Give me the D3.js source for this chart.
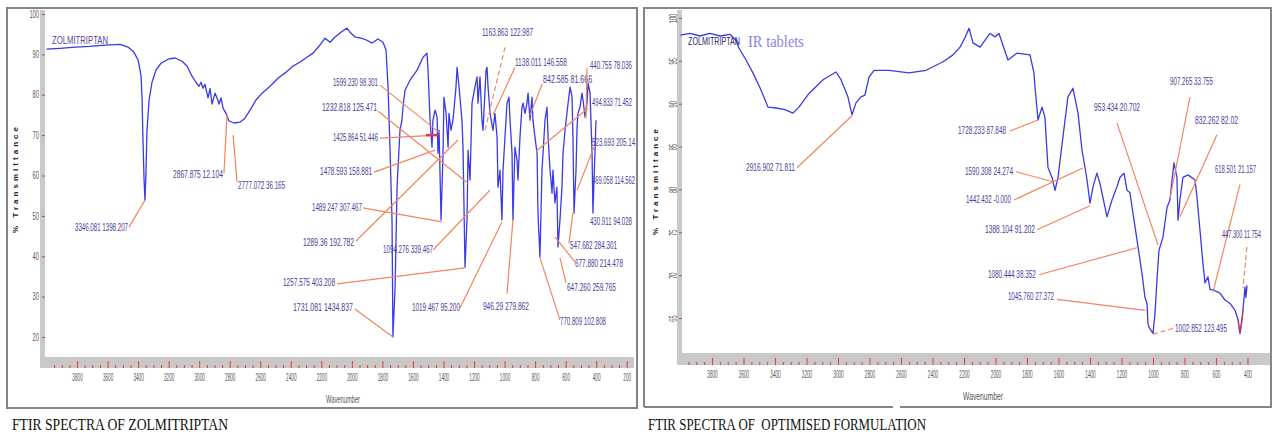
<!DOCTYPE html>
<html>
<head>
<meta charset="utf-8">
<script src="https://cdn.jsdelivr.net/npm/d3@7"></script>
<style>
	body { margin: 0; background: #fff; }
	svg { display: block; }
</style>
</head>
<body>
<svg id="chart" width="1272" height="432"></svg>
<script>
// ---- left spectrum: zolmitriptan ----
let zolWavenumber = [4000, 3911, 3813, 3715, 3617, 3518, 3466, 3427, 3400, 3381, 3374, 3368, 3361, 3355, 3348, 3342, 3328, 3309, 3283, 3250,
	3204, 3158, 3112, 3080, 3047, 3021, 3001, 2988, 2975, 2962, 2942, 2929, 2916, 2896, 2883, 2870, 2857, 2844, 2824, 2805,
	2772, 2733, 2700, 2667, 2628, 2588, 2536, 2484, 2431, 2385, 2340, 2294, 2254, 2215, 2176, 2143, 2110, 2071, 2032, 2012,
	1979, 1940, 1901, 1868, 1829, 1796, 1776, 1763, 1750, 1737, 1731, 1717, 1704, 1685, 1672, 1665, 1652, 1619, 1573, 1534,
	1508, 1501, 1488, 1475, 1469, 1455, 1442, 1436, 1429, 1416, 1403, 1397, 1383, 1370, 1364, 1351, 1338, 1318, 1311, 1298,
	1279, 1272, 1259, 1246, 1239, 1226, 1213, 1194, 1180, 1174, 1161, 1148, 1141, 1121, 1115, 1108, 1095, 1076, 1063, 1049,
	1043, 1030, 1017, 1010, 984, 971, 964, 951, 945, 932, 918, 912, 899, 886, 879, 866, 853, 846, 833, 820,
	814, 801, 787, 781, 768, 755, 748, 735, 722, 715, 702, 689, 683, 670, 657, 650, 637, 624, 617, 604,
	584, 571, 558, 552, 545, 532, 525, 519, 506, 493, 486, 473, 460, 453, 440, 427, 421, 414, 408, 401];
let zolTransmittance = [91.3, 91.5, 91.8, 92.0, 92.3, 92.5, 91.8, 90.5, 88.6, 84.8, 78.7, 68.8, 58.9, 53.9, 61.3, 71.2, 78.7, 83.1, 86.1, 87.8,
	88.8, 89.1, 88.3, 87.1, 84.6, 83.1, 82.1, 83.1, 81.6, 82.6, 79.2, 81.6, 77.7, 80.4, 79.2, 77.7, 79.2, 76.7, 75.4, 73.5,
	73.0, 73.2, 74.2, 76.2, 78.7, 80.4, 82.1, 84.1, 85.6, 87.1, 88.1, 89.3, 90.3, 92.0, 94.0, 93.0, 94.3, 95.5, 96.5, 95.5,
	94.3, 94.0, 93.5, 92.8, 93.8, 93.0, 91.0, 81.9, 66.3, 49.0, 20.0, 32.4, 57.1, 71.2, 73.7, 76.9, 81.1, 83.6, 86.1, 89.3,
	90.3, 86.1, 73.7, 67.0, 73.7, 76.2, 74.5, 65.5, 71.2, 49.0, 65.5, 79.4, 75.4, 67.0, 75.4, 71.2, 73.7, 81.9, 86.8, 81.9,
	73.7, 67.0, 37.3, 49.0, 66.3, 58.9, 77.9, 81.9, 84.4, 77.9, 84.4, 73.7, 71.2, 86.1, 86.8, 81.9, 75.4, 71.2, 75.4, 69.5,
	57.1, 61.3, 49.0, 61.3, 77.9, 79.4, 73.7, 65.5, 49.0, 67.0, 63.8, 58.9, 69.5, 76.9, 77.9, 75.4, 77.9, 80.4, 73.7, 79.4,
	73.7, 69.5, 65.5, 50.7, 39.8, 61.3, 65.5, 73.7, 76.9, 69.5, 61.3, 55.6, 61.3, 53.2, 57.1, 42.3, 49.0, 57.1, 65.5, 71.2,
	77.9, 81.9, 79.4, 69.5, 50.7, 61.3, 72.0, 75.4, 76.9, 80.4, 78.7, 74.5, 77.9, 82.9, 80.4, 65.5, 50.7, 58.9, 65.5, 73.7];

let zolPeakText = ["3346.081 1398.207", "2867.875 12.104", "2777.072 36.165", "1599.230 98.301", "1232.818 125.471",
	"1425.864 51.446", "1478.593 158.881", "1489.247 307.467", "1289.36 192.782", "1094.276 339.467",
	"1257.575 403.208", "1731.081 1434.837", "1163.863 122.987", "1138.011 146.558", "842.585 81.666",
	"440.755 78.036", "494.833 71.452", "523.693 205.14", "469.058 114.562", "430.911 94.028",
	"547.682 284.301", "677.880 214.478", "647.260 259.765", "770.809 102.808", "1019.467 95.200", "946.29 279.862"];
let zolPeakWave = [3355, 2818, 2778, 1423, 1239, 1436, 1455, 1410, 1305, 1095, 1259, 1731, 1128, 1076, 833,
	467, 794, 525, 421, 421, 552, 670, 637, 768, 1017, 945];
let zolPeakT = [53.9, 74.9, 70.0, 70.5, 58.1, 70.0, 66.3, 48.5, 68.8, 56.4, 37.1, 20.0, 71.2, 74.9, 74.9,
	74.2, 66.0, 56.4, 50.7, 50.7, 50.9, 44.8, 39.6, 39.6, 48.5, 49.0];

let zolXTicks = [3800, 3600, 3400, 3200, 3000, 2800, 2600, 2400, 2200, 2000, 1800, 1600, 1400, 1200, 1000, 800, 600, 400, 200];
let zolYTicks = [100, 90, 80, 70, 60, 50, 40, 30, 20];

// ---- right spectrum: optimised formulation ----
let tabWavenumber = [4000, 3940, 3876, 3813, 3749, 3686, 3648, 3629, 3584, 3540, 3489, 3444, 3394, 3337, 3286, 3248, 3184, 3095, 3013, 2981,
	2937, 2911, 2886, 2854, 2829, 2803, 2771, 2676, 2549, 2441, 2333, 2270, 2225, 2194, 2168, 2143, 2098, 2035, 2003, 1978,
	1921, 1864, 1781, 1756, 1749, 1730, 1705, 1686, 1667, 1641, 1622, 1603, 1572, 1540, 1508, 1476, 1451, 1432, 1419, 1400,
	1381, 1356, 1337, 1292, 1260, 1229, 1210, 1184, 1165, 1146, 1127, 1095, 1070, 1051, 1038, 1032, 1025, 1000, 987, 975,
	962, 937, 911, 892, 879, 867, 848, 841, 829, 810, 778, 733, 721, 702, 683, 670, 651, 638, 619, 575,
	543, 511, 479, 460, 448, 435, 429, 416, 410, 403];
let tabTransmittance = [98.0, 98.2, 97.9, 98.2, 97.9, 98.1, 97.4, 96.5, 95.1, 93.6, 91.6, 89.6, 89.5, 89.3, 88.9, 89.6, 91.2, 92.8, 93.7, 92.8,
	90.8, 88.7, 90.1, 90.8, 91.0, 93.1, 93.9, 93.9, 93.6, 93.9, 94.9, 95.7, 96.6, 97.7, 98.8, 97.1, 96.6, 98.2, 97.8, 98.2,
	95.1, 95.9, 95.7, 93.6, 91.9, 88.1, 89.6, 88.4, 82.6, 81.4, 79.9, 81.4, 86.1, 90.8, 91.8, 88.9, 84.6, 82.6, 81.1, 78.4,
	80.3, 81.9, 80.7, 76.8, 78.8, 80.3, 81.4, 81.9, 79.9, 79.6, 77.2, 73.3, 70.2, 67.4, 66.7, 64.4, 63.9, 63.2, 65.6, 69.4,
	72.9, 74.4, 77.9, 78.8, 81.1, 83.1, 81.4, 76.4, 78.8, 81.4, 81.7, 81.1, 79.1, 75.3, 71.4, 69.1, 69.8, 68.3, 68.3, 67.9,
	67.1, 66.7, 65.9, 64.8, 63.2, 64.8, 65.9, 68.6, 67.4, 68.8];

let tabPeakText = ["2916.902 71.811", "1728.233 87.848", "1590.308 24.274", "1442.432 -0.000", "1388.104 91.202",
	"1080.444 38.352", "1045.760 27.372", "1002.852 123.495", "953.434 20.702", "907.265 33.755",
	"832.262 82.02", "618.501 21.157", "447.300 11.754"];
let tabPeakWave = [2911, 1730, 1635, 1445, 1400, 1102, 1051, 1000, 968, 892, 829, 619, 429];
let tabPeakT = [88.6, 88.1, 80.9, 82.5, 78.1, 73.2, 65.9, 63.1, 73.5, 79.0, 76.8, 68.0, 68.5];

let tabXTicks = [3800, 3600, 3400, 3200, 3000, 2800, 2600, 2400, 2200, 2000, 1800, 1600, 1400, 1200, 1000, 800, 600, 400];
let tabYTicks = [100, 95, 90, 85, 80, 75, 70, 65];

// label placement (pixel offsets from the peak): text dx, dy, leader start dx, dy, text width, leader style
// style 0 solid, 1 dashed, 2 with red arrow, 3 no leader
let zolLabelLayout = [
	[-70, 31, -16, 27, 53, 0], [-54, 63, -3, 58, 50, 0], [5, 54, 4, 47, 47, 0], [-107, -47, -60, -48, 45, 0],
	[-146, -72, -90, -72, 55, 0], [-105, 6, -58, 3, 45, 2], [-115, 25, -61, 22, 52, 0], [-130, -11, -79, -14, 50, 0],
	[-155, 106, -102, 101, 51, 0], [-107, 63, -57, 60, 50, 0], [-182, 18, -128, 16, 52, 0], [-100, -26, -38, -28, 60, 0],
	[-3, -94, 20, -83, 51, 1], [22, -49, 22, -48, 52, 0], [13, -32, 12, -31, 49, 0], [4, -49, 1, -50, 42, 0],
	[56, -45, 52, -43, 40, 0], [15, -44, 17, -43, 43, 0], [-1, -29, 0, 0, 43, 3], [-3, 12, 0, 0, 42, 3],
	[-3, 37, -4, 31, 47, 0], [20, 30, 20, 25, 48, 0], [7, 33, 6, 25, 49, 0], [20, 67, 20, 62, 46, 0],
	[-90, 89, -42, 86, 48, 0], [-30, 90, -6, 74, 46, 0]];
let tabLabelLayout = [
	[-106, 55, -55, 52, 49, 0], [-80, 14, -28, 11, 48, 0], [-88, -7, -37, -10, 48, 0], [-117, 35, -69, 32, 45, 0],
	[-105, 27, -53, 24, 50, 0], [-149, 30, -98, 27, 48, 0], [-137, -10, -88, -11, 46, 0], [22, -2, 20, -6, 52, 1],
	[-64, -134, -41, -122, 46, 0], [0, -113, 20, -101, 43, 0], [15, -93, 37, -82, 43, 0], [2, -119, 27, -108, 41, 0],
	[-21, -50, 4, -41, 39, 1]];

let svg = d3.select('#chart');
let sans = '"Liberation Sans", Arial, sans-serif';
let serif = '"Liberation Serif", "Times New Roman", serif';
let labelColor = '#4a3c98';
let leaderColor = '#f2855e';
let red = '#e23a3a';

function makePanel(p) {
	let g = svg.append('g');

	let xScale = d3.scaleLinear().domain(p.xDomain).range(p.xRange);
	let yScale = d3.scaleLinear().domain(p.yDomain).range(p.yRange);

	//outer frame
	g.append('path')
		.attr('d', p.frame)
		.style('fill', 'none')
		.style('stroke', '#858585')
		.style('stroke-width', 2);

	//grey axis bars
	g.append('rect')
		.attr('x', p.barX).attr('y', p.top)
		.attr('width', 5).attr('height', p.bandY + p.bandH - p.top)
		.style('fill', '#c9c9c9');
	g.append('rect')
		.attr('x', p.barX).attr('y', p.bandY)
		.attr('width', p.bandRight - p.barX).attr('height', p.bandH)
		.style('fill', '#c9c9c9');

	//x axis: major ticks with labels, minor ticks without
	let minor = d3.range(p.xDomain[0], p.xDomain[1] - 1, -50).filter(v => v % 200 != 0);
	g.append('g')
		.attr('transform', `translate(0, ${p.bandY + p.bandH})`)
		.call(d3.axisBottom(xScale).tickValues(minor).tickSize(-3).tickFormat(''))
		.call(a => a.select('.domain').remove())
		.selectAll('line').style('stroke', red);

	let xAxis = g.append('g')
		.attr('transform', `translate(0, ${p.bandY + p.bandH})`)
		.call(d3.axisBottom(xScale).tickValues(p.xTicks).tickSize(-7).tickPadding(6).tickFormat(d3.format('d')));
	xAxis.select('.domain').remove();
	xAxis.selectAll('line').style('stroke', red);
	xAxis.selectAll('text')
		.style('font-family', sans).style('font-size', '10px').style('fill', '#555')
		.attr('textLength', d => String(d).length * 2.6)
		.attr('lengthAdjust', 'spacingAndGlyphs');

	//y axis
	let yAxis = g.append('g')
		.attr('transform', `translate(${p.barX + 5}, 0)`)
		.call(d3.axisLeft(yScale).tickValues(p.yTicks).tickSize(3).tickPadding(3));
	yAxis.select('.domain').remove();
	yAxis.selectAll('line').style('stroke', red);
	let yText = yAxis.selectAll('text')
		.style('font-family', sans).style('font-size', '10px').style('fill', '#555')
		.attr('textLength', d => String(d).length * 3.2)
		.attr('lengthAdjust', 'spacingAndGlyphs');
	if (p.rotateY) {
		yText.attr('x', null).attr('dy', null)
			.attr('text-anchor', 'middle')
			.attr('transform', 'translate(-5, 0) rotate(-90)');
	}

	//axis titles
	g.append('text')
		.attr('x', p.wnX).attr('y', p.wnY)
		.attr('textLength', p.wnW).attr('lengthAdjust', 'spacingAndGlyphs')
		.style('font-family', sans).style('font-size', '10px').style('fill', '#555')
		.text('Wavenumber');
	g.append('text')
		.attr('transform', `translate(${p.ytX}, ${p.ytY}) rotate(-90)`)
		.attr('text-anchor', 'middle')
		.attr('textLength', 106).attr('lengthAdjust', 'spacing')
		.style('font-family', sans).style('font-size', '8px').style('font-weight', 'bold').style('fill', '#222')
		.text('% Transmittance');

	//spectrum line
	let line = d3.line()
		.x(d => xScale(d[0]))
		.y(d => yScale(d[1]));
	let pts = p.wave.map((w, i) => [w, p.trans[i]]);

	g.append('path')
		.attr('d', line(pts))
		.style('fill', 'none')
		.style('stroke', '#3a3ae6')
		.style('stroke-width', 1.3)
		.attr('stroke-linejoin', 'round');

	if (p.redFrom) {
		g.append('path')
			.attr('d', line(pts.filter(d => d[0] <= p.redFrom[0] && d[0] >= p.redFrom[1])))
			.style('fill', 'none')
			.style('stroke', red)
			.style('stroke-width', 1.5)
			.style('opacity', 0.7);
	}

	//peak annotations
	p.peakText.forEach((t, i) => {
		let px = xScale(p.peakWave[i]);
		let py = yScale(p.peakT[i]);
		let L = p.layout[i];

		if (L[5] != 3) {
			g.append('line')
				.attr('x1', px + L[2]).attr('y1', py + L[3])
				.attr('x2', px).attr('y2', py)
				.style('stroke', leaderColor)
				.style('stroke-width', 1.2)
				.style('stroke-dasharray', L[5] == 1 ? '5,3' : null);
		}
		if (L[5] == 2) {
			g.append('line')
				.attr('x1', px - 12).attr('y1', py)
				.attr('x2', px).attr('y2', py)
				.style('stroke', red)
				.style('stroke-width', 2.5);
		}

		g.append('text')
			.attr('x', px + L[0]).attr('y', py + L[1])
			.attr('textLength', L[4]).attr('lengthAdjust', 'spacingAndGlyphs')
			.style('font-family', sans).style('font-size', '10px').style('fill', labelColor)
			.text(t);
	});

	return g;
}

let left = makePanel({
	xDomain: [4000, 200], xRange: [46.5, 626.7],
	yDomain: [20, 100], yRange: [337, 14],
	frame: 'M7,8H637V408H7Z',
	top: 10, barX: 40, bandY: 357, bandH: 11, bandRight: 634,
	xTicks: zolXTicks, yTicks: zolYTicks, rotateY: false,
	wnX: 326, wnY: 403, wnW: 34, ytX: 18, ytY: 180,
	wave: zolWavenumber, trans: zolTransmittance,
	peakText: zolPeakText, peakWave: zolPeakWave, peakT: zolPeakT, layout: zolLabelLayout
});

left.append('text')
	.attr('x', 52).attr('y', 44)
	.attr('textLength', 56).attr('lengthAdjust', 'spacingAndGlyphs')
	.style('font-family', sans).style('font-size', '10px').style('fill', '#5b3fa0')
	.text('ZOLMITRIPTAN');

let right = makePanel({
	xDomain: [4000, 400], xRange: [680.5, 1247.5],
	yDomain: [65, 100], yRange: [318, 18],
	frame: 'M644,407V8H1271V407H900M893,407H644',
	top: 10, barX: 677, bandY: 353, bandH: 12, bandRight: 1270,
	xTicks: tabXTicks, yTicks: tabYTicks, rotateY: true,
	wnX: 963, wnY: 400, wnW: 40, ytX: 658, ytY: 182,
	wave: tabWavenumber, trans: tabTransmittance, redFrom: [470, 425],
	peakText: tabPeakText, peakWave: tabPeakWave, peakT: tabPeakT, layout: tabLabelLayout
});

right.append('text')
	.attr('x', 688).attr('y', 45)
	.attr('textLength', 52).attr('lengthAdjust', 'spacingAndGlyphs')
	.style('font-family', sans).style('font-size', '10px').style('fill', '#2e2470')
	.text('ZOLMITRIPTAN');
right.append('text')
	.attr('x', 748).attr('y', 47)
	.attr('textLength', 56).attr('lengthAdjust', 'spacingAndGlyphs')
	.style('font-family', serif).style('font-size', '16px').style('fill', '#8a84e4')
	.text('IR tablets');

//captions under the panels
svg.append('text')
	.attr('x', 12).attr('y', 430)
	.attr('textLength', 216).attr('lengthAdjust', 'spacingAndGlyphs')
	.style('font-family', serif).style('font-size', '16px').style('fill', '#111')
	.text('FTIR SPECTRA OF ZOLMITRIPTAN');
svg.append('text')
	.attr('x', 648).attr('y', 430)
	.attr('textLength', 278).attr('lengthAdjust', 'spacingAndGlyphs')
	.style('font-family', serif).style('font-size', '16px').style('fill', '#111')
	.attr('xml:space', 'preserve')
	.text('FTIR SPECTRA OF  OPTIMISED FORMULATION');
</script>
</body>
</html>
